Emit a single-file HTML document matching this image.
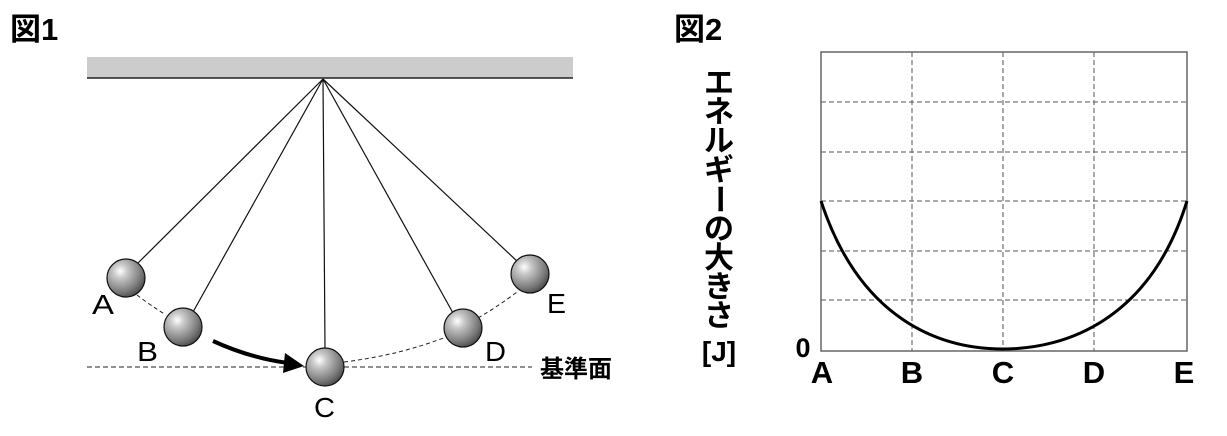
<!DOCTYPE html>
<html><head><meta charset="utf-8"><style>
body{margin:0;background:#fff;}
svg text{font-family:"Liberation Sans","Noto Sans CJK JP",sans-serif;}
</style></head><body>
<svg width="1227" height="431" viewBox="0 0 1227 431" xmlns="http://www.w3.org/2000/svg">
<defs>
<radialGradient id="g" cx="0.35" cy="0.32" r="0.75">
<stop offset="0" stop-color="#ffffff"/><stop offset="0.25" stop-color="#c8c8c8"/><stop offset="0.75" stop-color="#777"/><stop offset="1" stop-color="#444"/>
</radialGradient>
</defs>
<text x="10" y="40" font-size="31" font-weight="bold">図1</text>
<text x="674" y="40" font-size="31" font-weight="bold">図2</text>
<rect x="87" y="57" width="486" height="21" fill="#cccccc"/>
<line x1="87" y1="78" x2="573" y2="78" stroke="#222" stroke-width="1.5"/>
<g stroke="#111" stroke-width="1.2">
<line x1="323" y1="79" x2="137" y2="264"/>
<line x1="323" y1="79" x2="193" y2="312"/>
<line x1="323" y1="79" x2="325" y2="348"/>
<line x1="323" y1="79" x2="453" y2="313"/>
<line x1="323" y1="79" x2="518" y2="262"/>
</g>
<path d="M137 295 Q150 305 166 315" fill="none" stroke="#222" stroke-dasharray="4,3"/>
<path d="M344 362 Q400 355 446 337" fill="none" stroke="#222" stroke-dasharray="4,3"/>
<path d="M478 318 Q500 305 517 292" fill="none" stroke="#222" stroke-dasharray="4,3"/>
<line x1="87" y1="367" x2="307" y2="367" stroke="#222" stroke-dasharray="5,3"/>
<line x1="344" y1="367" x2="532" y2="367" stroke="#222" stroke-dasharray="5,3"/>
<path d="M213 341 Q250 358 288 363" fill="none" stroke="#000" stroke-width="4"/>
<polygon points="304,366 285,353 283,373" fill="#000"/>
<g stroke="#111" stroke-width="1.2" fill="url(#g)">
<circle cx="126" cy="278" r="19"/>
<circle cx="183" cy="327" r="19"/>
<circle cx="325" cy="367" r="19"/>
<circle cx="463" cy="328" r="19"/>
<circle cx="530" cy="274" r="19"/>
</g>
<g font-size="28">
<text x="92" y="314" textLength="22" lengthAdjust="spacingAndGlyphs">A</text>
<text x="137" y="361" textLength="21" lengthAdjust="spacingAndGlyphs">B</text>
<text x="314" y="417" textLength="21" lengthAdjust="spacingAndGlyphs">C</text>
<text x="485" y="361" textLength="21" lengthAdjust="spacingAndGlyphs">D</text>
<text x="547" y="313" textLength="19" lengthAdjust="spacingAndGlyphs">E</text>
</g>
<text x="540" y="377" font-size="24" font-weight="bold">基準面</text>
<g font-size="30" font-weight="bold" text-anchor="middle">
<text x="719" y="93">エ</text>
<text x="719" y="122">ネ</text>
<text x="719" y="151">ル</text>
<text x="719" y="180">ギ</text>
<text x="719" y="209" transform="rotate(90 719 199)">ー</text>
<text x="719" y="239">の</text>
<text x="719" y="268">大</text>
<text x="719" y="297">き</text>
<text x="719" y="326">さ</text>
<text x="719" y="361" font-size="28">[J]</text>
</g>
<g stroke="#555" stroke-dasharray="5,3" stroke-width="1">
<line x1="912" y1="52" x2="912" y2="351"/>
<line x1="1003" y1="52" x2="1003" y2="351"/>
<line x1="1094" y1="52" x2="1094" y2="351"/>
<line x1="821" y1="102" x2="1187" y2="102"/>
<line x1="821" y1="152" x2="1187" y2="152"/>
<line x1="821" y1="201" x2="1187" y2="201"/>
<line x1="821" y1="251" x2="1187" y2="251"/>
<line x1="821" y1="300" x2="1187" y2="300"/>
</g>
<rect x="821" y="52" width="366" height="299" fill="none" stroke="#666" stroke-width="1.5"/>
<path d="M821 201 C860 320 940 349 1003 349 C1066 349 1150 320 1187 201" fill="none" stroke="#000" stroke-width="3"/>
<g font-size="31" font-weight="bold" text-anchor="middle">
<text x="822" y="383">A</text>
<text x="912" y="383">B</text>
<text x="1003" y="383">C</text>
<text x="1094" y="383">D</text>
<text x="1184" y="383">E</text>
<text x="803" y="357" font-size="27">0</text>
</g>
</svg>
</body></html>
